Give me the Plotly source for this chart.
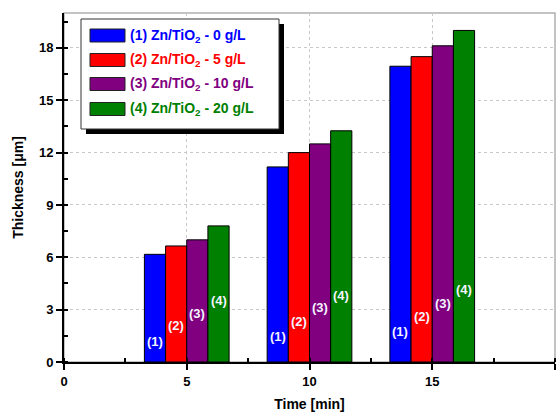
import plotly.graph_objects as go

# ---- data ----
times = [5, 10, 15]
series_names = ["(1) Zn/TiO<sub>2</sub> - 0 g/L", "(2) Zn/TiO<sub>2</sub> - 5 g/L",
                "(3) Zn/TiO<sub>2</sub> - 10 g/L", "(4) Zn/TiO<sub>2</sub> - 20 g/L"]
short_labels = ["(1)", "(2)", "(3)", "(4)"]
thick_0 = [6.17, 11.18, 16.95]
thick_5 = [6.65, 12.0, 17.5]
thick_10 = [7.0, 12.5, 18.12]
thick_20 = [7.8, 13.25, 19.0]
label_y_1 = [1.2, 1.45, 1.75]
label_y_2 = [2.1, 2.3, 2.6]
label_y_3 = [2.8, 3.15, 3.35]
label_y_4 = [3.5, 3.8, 4.15]
x_ticks = [0, 5, 10, 15, 20]
y_ticks = [0, 3, 6, 9, 12, 15, 18]

colors = ["#0000ff", "#ff0000", "#800080", "#008000"]
values = [thick_0, thick_5, thick_10, thick_20]
label_ys = [label_y_1, label_y_2, label_y_3, label_y_4]

BARGAP = 0.31
W, H = 560, 414
ML, MR, MT, MB = 64, 5, 13, 52
XR = (0, 20)
YR = (0, 20)
pw = W - ML - MR
ph = H - MT - MB

def px2x(px):
    return XR[0] + (px - ML) / pw * (XR[1] - XR[0])

def py2y(py):
    return YR[0] + (H - MB - py) / ph * (YR[1] - YR[0])

FONT = "Liberation Sans, Arial, sans-serif"

fig = go.Figure()
for name, vals, c in zip(series_names, values, colors):
    fig.add_trace(go.Bar(x=times, y=vals, name=name, marker=dict(color=c, line=dict(color="black", width=1)),
                         showlegend=False))

# in-bar labels
bw = (times[1] - times[0]) * (1 - BARGAP) / len(values)
for i, (lab, ys) in enumerate(zip(short_labels, label_ys)):
    for t, yv in zip(times, ys):
        fig.add_annotation(x=t + (i - 1.5) * bw, y=yv, text="<b>%s</b>" % lab, showarrow=False,
                           font=dict(family=FONT, size=13, color="#f4f4ff"), xref="x", yref="y")

# plot frame (top/right gray)
fig.add_shape(type="rect", xref="paper", yref="paper", x0=0, x1=1, y0=0, y1=1,
              line=dict(color="#b0b0b0", width=1.5), layer="below")

# custom legend
box_l, box_r, box_t, box_b = 81, 279, 19, 129
fig.add_shape(type="rect", xref="x", yref="y", x0=px2x(box_l + 5), x1=px2x(box_r + 5),
              y0=py2y(box_b + 5), y1=py2y(box_t + 5), fillcolor="black", line=dict(width=0))
fig.add_shape(type="rect", xref="x", yref="y", x0=px2x(box_l), x1=px2x(box_r),
              y0=py2y(box_b), y1=py2y(box_t), fillcolor="white", line=dict(color="#333333", width=1))
row_y = [35.5, 60, 84, 109]
for name, c, ry in zip(series_names, colors, row_y):
    fig.add_shape(type="rect", xref="x", yref="y", x0=px2x(90), x1=px2x(125),
                  y0=py2y(ry + 6.5), y1=py2y(ry - 6.5), fillcolor=c, line=dict(color="#222222", width=1))
    fig.add_annotation(x=px2x(128), y=py2y(ry), text="<b>%s</b>" % name, showarrow=False,
                       xanchor="left", yanchor="middle", xref="x", yref="y",
                       font=dict(family=FONT, size=14, color=c))

fig.update_layout(
    width=W, height=H,
    margin=dict(l=ML, r=MR, t=MT, b=MB),
    paper_bgcolor="white", plot_bgcolor="white",
    barmode="group", bargap=BARGAP, bargroupgap=0,
    font=dict(family=FONT, size=13, color="black"),
    showlegend=False,
)
fig.update_xaxes(range=list(XR), tickvals=x_ticks, showline=True, linecolor="black", linewidth=2,
                 ticks="outside", ticklen=6, tickwidth=2, tickcolor="black",
                 tickfont=dict(family=FONT, size=13, color="black", weight="bold"),
                 showgrid=True, gridcolor="#c8c8c8", griddash="dot", gridwidth=1, zeroline=False,
                 minor=dict(dtick=2.5, ticks="inside", ticklen=4, tickwidth=2, tickcolor="black", showgrid=False),
                 title=dict(text="<b>Time [min]</b>", font=dict(family=FONT, size=14), standoff=12))
fig.update_yaxes(range=list(YR), tickvals=y_ticks, showline=True, linecolor="black", linewidth=2,
                 ticks="outside", ticklen=6, tickwidth=2, tickcolor="black",
                 tickfont=dict(family=FONT, size=13, color="black", weight="bold"),
                 showgrid=True, gridcolor="#c8c8c8", griddash="dot", gridwidth=1, zeroline=False,
                 minor=dict(dtick=1.5, ticks="inside", ticklen=4, tickwidth=2, tickcolor="black", showgrid=False),
                 title=dict(text="<b>Thickness [μm]</b>", font=dict(family=FONT, size=14), standoff=12))

fig.write_html("out.html")
